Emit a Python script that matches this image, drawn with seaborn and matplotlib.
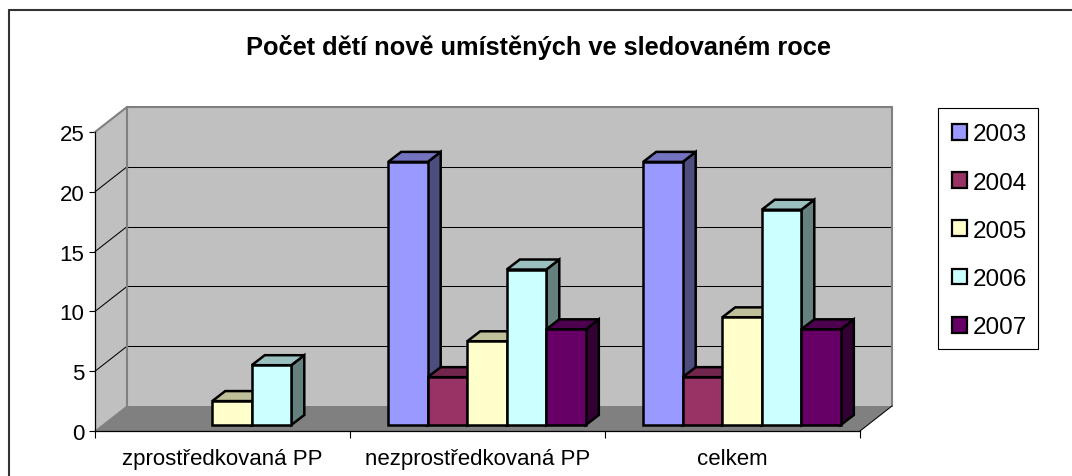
import matplotlib
matplotlib.use("Agg")
import matplotlib.pyplot as plt
import numpy as np
import pandas as pd
import seaborn as sns
from matplotlib.colors import to_rgb
from matplotlib.patches import Polygon, Rectangle
from matplotlib.lines import Line2D
from matplotlib.transforms import Affine2D

categories = ["zprostředkovaná PP", "nezprostředkovaná PP", "celkem"]
years = ["2003", "2004", "2005", "2006", "2007"]
v2003 = [np.nan, 22, 22]
v2004 = [np.nan, 4, 4]
v2005 = [2, 7, 9]
v2006 = [5, 13, 18]
v2007 = [np.nan, 8, 8]
colors = ["#9999FF", "#993366", "#FFFFCC", "#CCFFFF", "#660066"]
yticks = [0, 5, 10, 15, 20, 25]
title = "Počet dětí nově umístěných ve sledovaném roce"

W, H = 1072, 477
sns.set_theme(style="white")
plt.rcParams["font.family"] = ["Liberation Sans", "DejaVu Sans"]
fig = plt.figure(figsize=(W / 100, H / 100), dpi=100, facecolor="white")
L, R, T, B = 95, 860, 133, 432
ax = fig.add_axes([L / W, 1 - B / H, (R - L) / W, (B - T) / H])
ax.patch.set_alpha(0)

df = pd.DataFrame({"cat": categories, **dict(zip(years, [v2003, v2004, v2005, v2006, v2007]))})
long = df.melt(id_vars="cat", var_name="year", value_name="n").dropna()
sns.barplot(data=long, x="cat", y="n", hue="year", order=categories, hue_order=years,
            palette=dict(zip(years, colors)), width=0.775, gap=0, saturation=1,
            edgecolor="black", linewidth=1.8, ax=ax, legend=True, zorder=5)
ax.set_xlim(-0.5, 2.5)
ax.set_ylim(0, 25)
ax.set_xlabel("")
ax.set_ylabel("")

# x: boundary ticks, names centred between them
ax.set_xticks([-0.5, 0.5, 1.5, 2.5])
ax.set_xticklabels([])
ax.set_xticks([0, 1, 2], minor=True)
ax.set_xticklabels(categories, minor=True, fontsize=16, color="black")
ax.tick_params(axis="x", which="major", length=5, width=0.8, color="black", bottom=True, direction="out")
ax.tick_params(axis="x", which="minor", length=0, pad=12)
ax.set_yticks(yticks)
ax.tick_params(axis="y", length=4, width=0.8, color="black", labelsize=16, labelcolor="black", pad=3.5, left=True)
for s in ("top", "right"):
    ax.spines[s].set_visible(False)
for s in ("left", "bottom"):
    ax.spines[s].set_color("black")
    ax.spines[s].set_linewidth(0.9)
    ax.spines[s].set_zorder(3)

# Pseudo-3D box, all in display pixels relative to the axes
to_disp = ax.transData
wall_dx, wall_dy = 32, 25
def P(x, y):
    return to_disp.transform((x, y))
p00, p10, p01 = P(-0.5, 0), P(2.5, 0), P(-0.5, 25)
o = np.array([wall_dx, wall_dy])
ident = Affine2D()
def poly(pts, fc, ec="none", lw=0, z=1):
    ax.add_patch(Polygon(pts, closed=True, facecolor=fc, edgecolor=ec, linewidth=lw,
                         transform=ident, clip_on=False, zorder=z, joinstyle="miter"))
def line(a, b, c="black", lw=0.75, z=2):
    ax.add_line(Line2D([a[0], b[0]], [a[1], b[1]], color=c, linewidth=lw, transform=ident,
                       clip_on=False, zorder=z))
poly([p00 + o, p10 + o, p10 + o + (p01 - p00), p01 + o], "#C0C0C0", z=1)
poly([p00, p00 + o, p01 + o, p01], "#C0C0C0", z=1)
poly([p00, p10, p10 + o, p00 + o], "#808080", z=1.1)
for t in yticks[1:-1]:
    a = P(-0.5, t)
    b = P(2.5, t)
    line(a, a + o)
    line(a + o, b + o)
line(p00 + o, p01 + o, c="#808080", lw=1.5, z=2.1)
line(p01, p01 + o, c="#808080", lw=1.5, z=2.1)
line(p01 + o, p10 + o + (p01 - p00), c="#808080", lw=1.5, z=2.1)
line(p10 + o, p10 + o + (p01 - p00), c="#808080", lw=1.5, z=2.1)
line(p10, p10 + o, c="black", z=2.1)
line(p00, p00 + o, c="#808080", z=2.1)

# Bars: shift front faces into the box, extrude sides and tops
shift = Affine2D().translate(9.5, 6)
depth = np.array([13, 10])
bars = [p for p in ax.patches if type(p) is Rectangle and p.get_height() > 0]
bars.sort(key=lambda p: p.get_x())
for i, p in enumerate(bars):
    z = 5 + i
    x0, x1 = p.get_x(), p.get_x() + p.get_width()
    y1 = p.get_height()
    b = P(x1, 0) + (9.5, 6)
    c = P(x1, y1) + (9.5, 6)
    d = P(x0, y1) + (9.5, 6)
    fc = np.array(to_rgb(p.get_facecolor()[:3]))
    poly([b, b + depth, c + depth, c], tuple(fc * 0.5), "black", 1.8, z)
    poly([d, c, c + depth, d + depth], tuple(fc * 0.75), "black", 1.8, z)
    p.set_transform(ax.transData + shift)
    p.set_clip_on(False)
    p.set_zorder(z + 0.5)

# Legend: box drawn separately so the entries can sit freely inside it
fig.add_artist(Rectangle((938 / W, 1 - 350 / H), 100 / W, 241 / H, transform=fig.transFigure,
                         facecolor="white", edgecolor="black", linewidth=0.8))
handles, labels = ax.get_legend_handles_labels()
ax.get_legend().remove()
leg = fig.legend(handles, labels, loc="upper left", bbox_to_anchor=(939 / W, 1 - 111 / H),
                 bbox_transform=fig.transFigure, frameon=False, fontsize=17.5, borderaxespad=0,
                 borderpad=0.55, handlelength=0.62, handleheight=0.62, handletextpad=0.2,
                 labelspacing=1.08, labelcolor="black")
for h in leg.get_patches():
    h.set_edgecolor("black")
    h.set_linewidth(1.6)

fig.text(538 / W, 1 - 48 / H, title, ha="center", va="center", fontsize=18.25, fontweight="bold", color="black")

# Chart frame: top and left edges only; the others fall outside the picture
fig.add_artist(Line2D([9 / W, 9 / W], [0, 1 - 11 / H], color="#333333", linewidth=1.5))
fig.add_artist(Line2D([9 / W, 1], [1 - 11 / H, 1 - 11 / H], color="#333333", linewidth=1.5))

fig.savefig("out.png", dpi=100, facecolor="white")
